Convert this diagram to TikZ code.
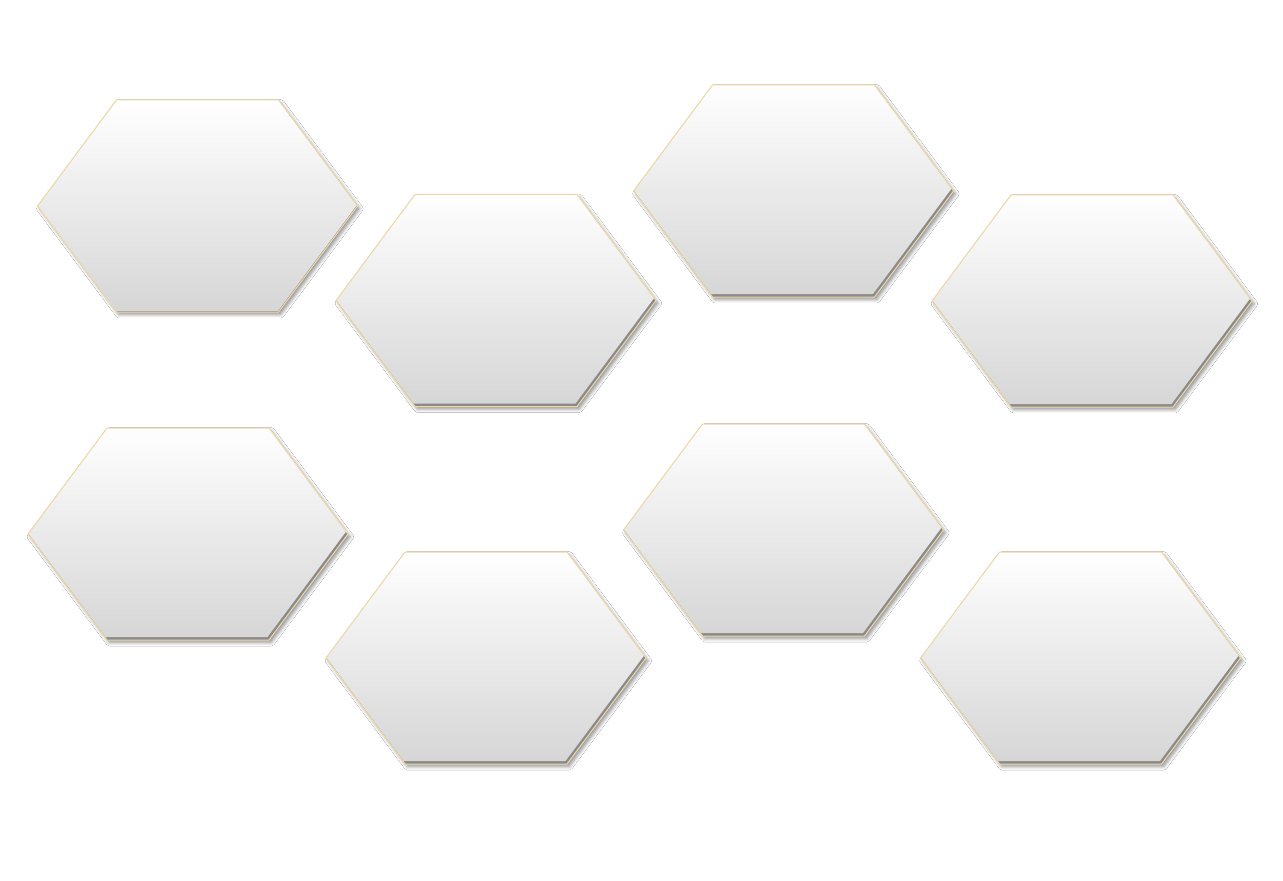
\documentclass[tikz,border=0pt]{standalone}
\usetikzlibrary{shadows.blur}

\definecolor{hexrim}{RGB}{240,214,164}
\definecolor{hexbevel}{RGB}{138,138,138}
\definecolor{hexlow}{RGB}{214,214,214}

\tikzset{
  hexface/.style={top color=white, bottom color=hexlow},
  hexedge/.style={draw=hexrim, line width=0.5pt, line join=miter},
  hexdrop/.style={fill=white, blur shadow={shadow xshift=1.2pt, shadow yshift=-1.4pt,
      shadow blur radius=1.6pt, shadow opacity=40}},
}
\newcommand{\hexpath}{(-81,106) -- (81,106) -- (160,0) -- (81,-106) -- (-81,-106) -- (-160,0) -- cycle}

\begin{document}
\begin{tikzpicture}[x=0.5pt,y=0.5pt]
  \fill[white] (0,0) rectangle (1283,880);
  \useasboundingbox (0,0) rectangle (1283,880);
  % honeycomb cells: name/centre x/centre y/bevel depth
  \foreach \n/\cx/\cy/\b in {1/197.5/674/1, 2/496/579.5/3, 3/793.5/689/3, 4/1092/579/3,
                             5/188/346/3, 6/486/222/3, 7/783.5/350/3, 8/1080.5/222/3}{
    \begin{scope}[shift={(\cx,\cy)}]
      \coordinate (cell\n) at (0,0);
      \path[hexdrop] \hexpath;
      \begin{scope}
        \clip \hexpath;
        \fill[hexbevel] \hexpath;
        \shade[hexface,shift={({-0.5*\b},\b)}] \hexpath;
      \end{scope}
      \path[hexedge] \hexpath;
    \end{scope}
  }
\end{tikzpicture}
\end{document}
